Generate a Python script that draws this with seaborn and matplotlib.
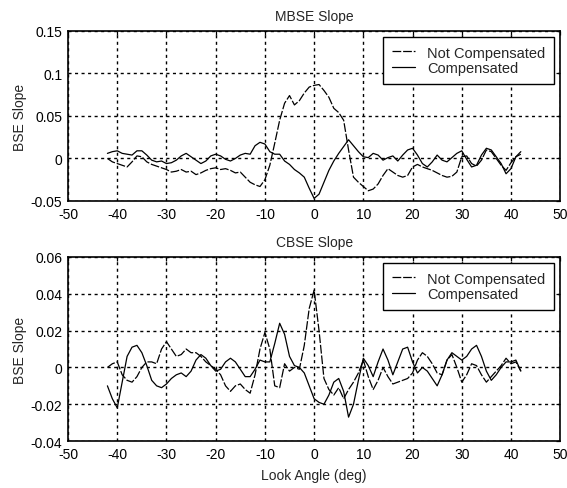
import numpy as np
import pandas as pd
import matplotlib
matplotlib.use('Agg')
import matplotlib.pyplot as plt
import seaborn as sns

angles = list(range(-42, 43))

mbse_nc = [0.000, -0.004, -0.006, -0.008, -0.010, -0.004, 0.003, 0.002, -0.004, -0.007,
           -0.009, -0.011, -0.013, -0.016, -0.015, -0.013, -0.016, -0.015, -0.019, -0.017,
           -0.014, -0.012, -0.011, -0.013, -0.012, -0.014, -0.017, -0.016, -0.022, -0.028,
           -0.031, -0.033, -0.025, -0.008, 0.018, 0.045, 0.065, 0.074, 0.063, 0.068,
           0.077, 0.084, 0.086, 0.087, 0.080, 0.072, 0.059, 0.054, 0.045, 0.010,
           -0.022, -0.028, -0.033, -0.038, -0.036, -0.030, -0.020, -0.012, -0.016, -0.020,
           -0.022, -0.020, -0.010, -0.007, -0.010, -0.012, -0.014, -0.017, -0.020, -0.022,
           -0.021, -0.016, 0.002, 0.003, -0.006, -0.009, -0.002, 0.010, 0.008, 0.000,
           -0.008, -0.014, -0.005, 0.002, 0.005]
mbse_comp = [0.006, 0.008, 0.009, 0.006, 0.005, 0.004, 0.009, 0.009, 0.004, -0.002,
             -0.004, -0.003, -0.006, -0.005, -0.002, 0.003, 0.006, 0.002, -0.002, -0.006,
             -0.003, 0.003, 0.005, 0.003, -0.001, -0.003, 0.000, 0.004, 0.006, 0.005,
             0.015, 0.019, 0.017, 0.008, 0.005, 0.005, -0.003, -0.007, -0.013, -0.017,
             -0.022, -0.035, -0.047, -0.042, -0.028, -0.014, -0.003, 0.006, 0.014, 0.022,
             0.015, 0.008, 0.002, 0.001, 0.006, 0.004, -0.002, 0.001, 0.003, -0.003,
             0.004, 0.010, 0.012, 0.004, -0.006, -0.010, -0.004, 0.004, -0.002, -0.004,
             0.001, 0.006, 0.009, -0.001, -0.010, -0.008, 0.004, 0.012, 0.010, 0.002,
             -0.006, -0.018, -0.012, 0.002, 0.008]

cbse_nc = [0.000, 0.002, 0.003, -0.004, -0.007, -0.008, -0.005, 0.000, 0.003, 0.003,
           0.002, 0.010, 0.014, 0.010, 0.006, 0.007, 0.010, 0.008, 0.008, 0.006,
           0.003, 0.001, -0.001, -0.004, -0.010, -0.013, -0.010, -0.009, -0.012, -0.014,
           -0.004, 0.010, 0.019, 0.010, -0.010, -0.011, 0.002, -0.002, 0.000, -0.001,
           0.012, 0.032, 0.042, 0.020, -0.006, -0.012, -0.015, -0.011, -0.017, -0.012,
           -0.008, -0.003, 0.004, -0.005, -0.012, -0.007, 0.000, -0.005, -0.009, -0.008,
           -0.007, -0.006, -0.003, 0.004, 0.008, 0.006, 0.002, -0.003, -0.004, 0.004,
           0.007, 0.000, -0.008, -0.004, 0.002, 0.001, -0.004, -0.008, -0.005, -0.002,
           0.001, 0.005, 0.002, 0.003, -0.002]
cbse_comp = [-0.010, -0.017, -0.022, -0.008, 0.006, 0.011, 0.012, 0.008, 0.001, -0.007,
             -0.010, -0.011, -0.009, -0.006, -0.004, -0.003, -0.005, -0.002, 0.004, 0.007,
             0.005, 0.001, -0.002, -0.001, 0.003, 0.005, 0.003, -0.001, -0.005, -0.005,
             -0.001, 0.004, 0.003, 0.003, 0.013, 0.024, 0.018, 0.006, 0.001, 0.000,
             -0.003, -0.010, -0.017, -0.019, -0.020, -0.015, -0.008, -0.006, -0.013, -0.027,
             -0.020, -0.007, 0.005, 0.001, -0.005, 0.003, 0.010, 0.004, -0.004, 0.003,
             0.010, 0.011, 0.003, -0.003, 0.000, -0.002, -0.006, -0.010, -0.004, 0.004,
             0.008, 0.006, 0.004, 0.006, 0.010, 0.012, 0.006, -0.002, -0.007, -0.004,
             0.000, 0.003, 0.003, 0.004, -0.002]

series_names = ['Not Compensated', 'Compensated']
x_ticks = [-50, -40, -30, -20, -10, 0, 10, 20, 30, 40, 50]
mbse_yticks = [-0.05, 0, 0.05, 0.1, 0.15]
mbse_ylabels = ['-0.05', '0', '0.05', '0.1', '0.15']
cbse_yticks = [-0.04, -0.02, 0, 0.02, 0.04, 0.06]
cbse_ylabels = ['-0.04', '-0.02', '0', '0.02', '0.04', '0.06']

sns.set_style('white')
plt.rcParams['font.family'] = ['Liberation Sans', 'DejaVu Sans']
plt.rcParams['font.size'] = 10


def panel(ax, nc, comp, title, yticks, ylabels):
    df = pd.DataFrame({
        'angle': angles * 2,
        'slope': nc + comp,
        'series': [series_names[0]] * len(nc) + [series_names[1]] * len(comp),
    })
    sns.lineplot(data=df, x='angle', y='slope', style='series', style_order=series_names,
                 dashes={series_names[0]: (7, 1.5), series_names[1]: ''},
                 color='k', linewidth=0.9, ax=ax)
    ax.set_xlim(-50, 50)
    ax.set_ylim(yticks[0], yticks[-1])
    ax.set_xticks(x_ticks)
    ax.set_xticklabels([str(t) for t in x_ticks])
    ax.set_yticks(yticks)
    ax.set_yticklabels(ylabels)
    ax.grid(True, color='k', linestyle=(0, (2.2, 2.5)), linewidth=1.0)
    ax.tick_params(direction='in', top=True, right=True, length=3, width=0.9,
                   labelsize=10, colors='k', pad=4)
    for s in ax.spines.values():
        s.set_color('k')
        s.set_linewidth(1.2)
    ax.set_title(title, fontsize=10, pad=8)
    ax.set_ylabel('BSE Slope', fontsize=10, labelpad=3)
    ax.set_xlabel('')
    leg = ax.legend(loc='upper right', frameon=True, fancybox=False, edgecolor='k',
                    framealpha=1, fontsize=10.5, handlelength=1.6, borderaxespad=0.4,
                    labelspacing=0.12, handletextpad=0.85, borderpad=0.6)
    leg.get_frame().set_linewidth(1.0)


fig = plt.figure(figsize=(5.67, 4.89), dpi=100)
ax1 = fig.add_axes([0.12, 0.587, 0.868, 0.3476])
ax2 = fig.add_axes([0.12, 0.096, 0.868, 0.3764])

panel(ax1, mbse_nc, mbse_comp, 'MBSE Slope', mbse_yticks, mbse_ylabels)
panel(ax2, cbse_nc, cbse_comp, 'CBSE Slope', cbse_yticks, cbse_ylabels)
ax2.set_xlabel('Look Angle (deg)', fontsize=10, labelpad=5)

fig.savefig('out.png', dpi=100, facecolor='white')
